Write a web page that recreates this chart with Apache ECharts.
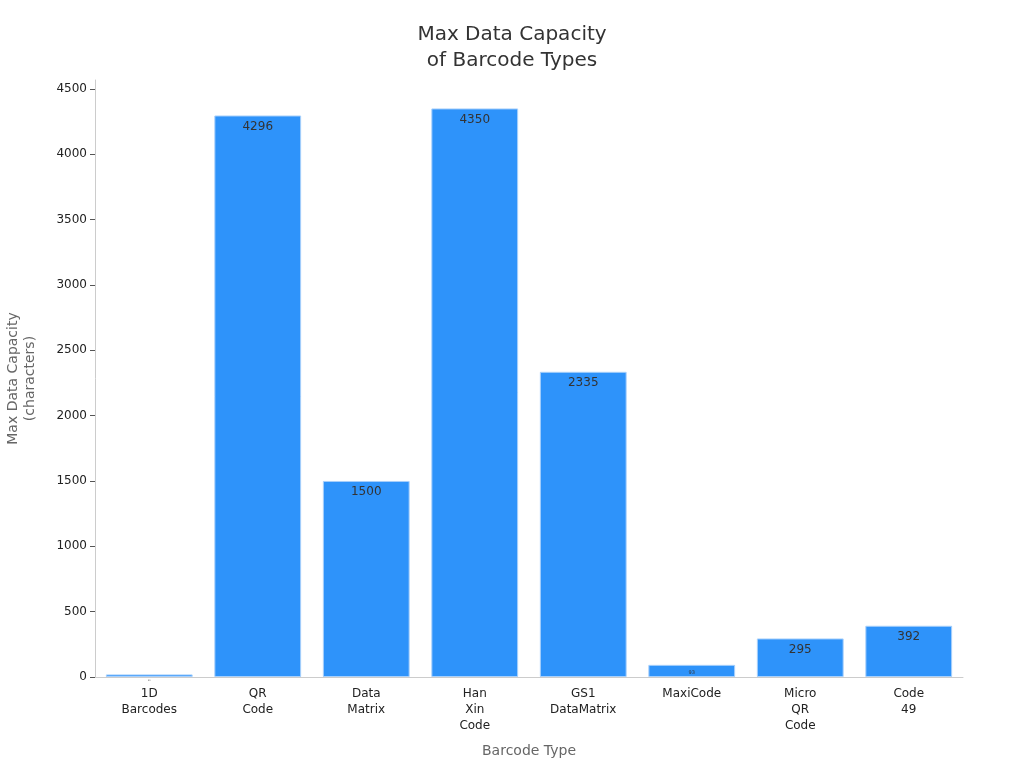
<!DOCTYPE html>
<html><head><meta charset="utf-8">
<script src="https://cdn.jsdelivr.net/npm/echarts@6/dist/echarts.min.js"></script>
<style>html,body{margin:0;padding:0;background:#fff}#c{width:1024px;height:768px}</style>
</head><body><div id="c"></div>
<script>
const categories = ['1D\nBarcodes','QR\nCode','Data\nMatrix','Han\nXin\nCode','GS1\nDataMatrix','MaxiCode','Micro\nQR\nCode','Code\n49'];
const values = [20, 4296, 1500, 4350, 2335, 93, 295, 392];
const labelSizes = [2, 12, 12, 12, 12, 5, 12, 12];
const yTicks = [0, 500, 1000, 1500, 2000, 2500, 3000, 3500, 4000, 4500];

const chart = echarts.init(document.getElementById('c'), null, {renderer: 'canvas'});
chart.setOption({
  animation: false,
  title: {
    text: 'Max Data Capacity\nof Barcode Types',
    left: 'center', top: 17,
    textStyle: {fontFamily: 'DejaVu Sans', fontSize: 20, fontWeight: 'normal', color: '#333', lineHeight: 26}
  },
  grid: {left: 95, right: 61, top: 80, bottom: 91, containLabel: false, outerBoundsMode: 'none'},
  xAxis: {
    type: 'category', data: categories,
    name: 'Barcode Type', nameLocation: 'middle', nameGap: 67,
    nameTextStyle: {fontFamily: 'DejaVu Sans', fontSize: 14, color: '#666'},
    axisLine: {lineStyle: {color: '#ccc'}},
    axisTick: {alignWithLabel: true, length: 5, lineStyle: {color: '#555'}},
    axisLabel: {fontFamily: 'DejaVu Sans', fontSize: 12, color: '#222', lineHeight: 16, margin: 9, interval: 0}
  },
  yAxis: {
    type: 'value', min: 0, max: 4567.5, interval: 500,
    name: 'Max Data Capacity\n(characters)', nameLocation: 'middle', nameGap: 56, nameRotate: 90,
    nameTextStyle: {fontFamily: 'DejaVu Sans', fontSize: 14, color: '#666', lineHeight: 17},
    axisLine: {show: true, lineStyle: {color: '#ccc'}},
    axisTick: {show: true, length: 5, lineStyle: {color: '#555'}},
    splitLine: {show: false},
    axisLabel: {fontFamily: 'DejaVu Sans', fontSize: 12, color: '#222', margin: 8, showMaxLabel: false,
      formatter: v => yTicks.includes(v) ? String(v) : ''}
  },
  series: [{
    type: 'bar',
    barWidth: '80%',
    data: values.map((v, i) => ({value: v, label: {fontSize: labelSizes[i]}})),
    itemStyle: {color: '#2E93FA', borderColor: '#a8d0fb', borderWidth: 1},
    label: {show: true, position: 'insideTop', distance: 5, color: '#333', fontFamily: 'DejaVu Sans', fontSize: 12}
  }]
});
</script></body></html>
